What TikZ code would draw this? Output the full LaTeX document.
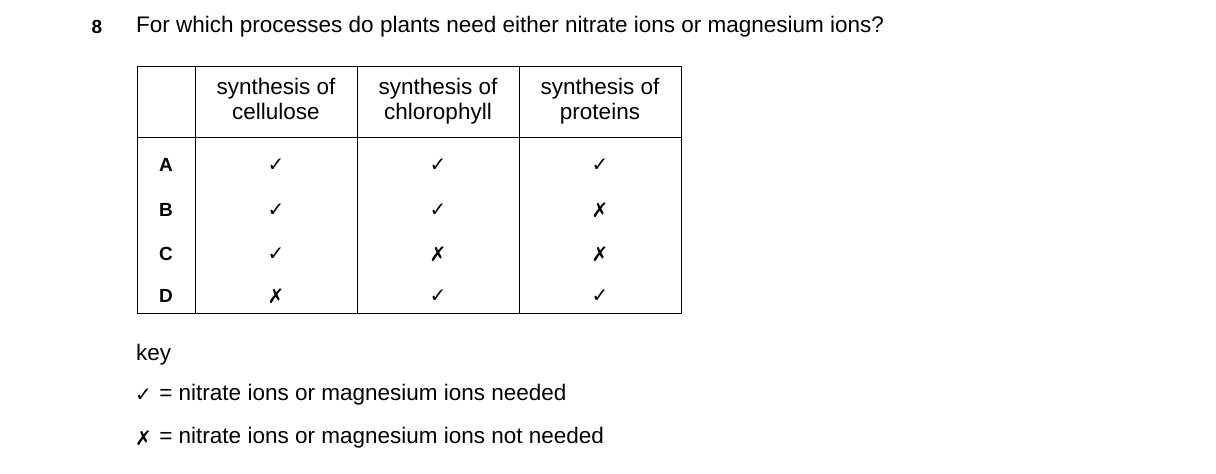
\documentclass[tikz,border=0pt]{standalone}
\usepackage{fontspec}
\setmainfont{Liberation Sans}
\newfontfamily\symfont{DejaVu Sans}
\usetikzlibrary{positioning}
\tikzset{txt/.style={font=\fontsize{22.5}{24}\selectfont,inner sep=0pt},
         hd/.style={txt,align=center,font=\fontsize{22.5}{25}\selectfont},
         lab/.style={txt,font=\fontsize{19}{22}\selectfont\bfseries},
         mk/.style={font=\fontsize{20}{24}\symfont,inner sep=0pt}}
\newcommand{\yes}{✓}
\newcommand{\no}{✗}
\begin{document}
\begin{tikzpicture}[x=1pt,y=-1pt]
\useasboundingbox (0,0) rectangle (1216,474);
\node[lab] (num) at (97,27) {8};
\node[txt,anchor=west] (q) at (136,27) {For which processes do plants need either nitrate ions or magnesium ions?};
% table frame
\draw[line width=1pt] (137,66) rectangle (681,313);
\draw[line width=1pt] (137,137) -- (681,137);
\foreach \x in {195,357,519} \draw[line width=1pt] (\x,66) -- (\x,313);
\node[hd] (h1) at (276,102) {\strut synthesis of\\\strut cellulose};
\node[hd] (h2) at (438,102) {\strut synthesis of\\\strut chlorophyll};
\node[hd] (h3) at (600,102) {\strut synthesis of\\\strut proteins};
% rows
\foreach \r/\y/\a/\b/\c in {A/165/\yes/\yes/\yes, B/210/\yes/\yes/\no, C/254/\yes/\no/\no, D/296/\no/\yes/\yes}{
  \node[lab] (row\r) at (166,\y) {\r};
  \node[mk] (c1\r) at (276,\y) {\a};
  \node[mk] (c2\r) at (438,\y) {\b};
  \node[mk] (c3\r) at (600,\y) {\c};
}
% key
\node[txt,anchor=west] (key) at (136,355) {key};
\node[mk,anchor=west] (kyes) at (135,395) {\yes};
\node[txt,anchor=west,right=7pt of kyes] (kyest) {= nitrate ions or magnesium ions needed};
\node[mk,anchor=west] (kno) at (135,438) {\no};
\node[txt,anchor=west,right=7pt of kno] (knot) {= nitrate ions or magnesium ions not needed};
\end{tikzpicture}
\end{document}
